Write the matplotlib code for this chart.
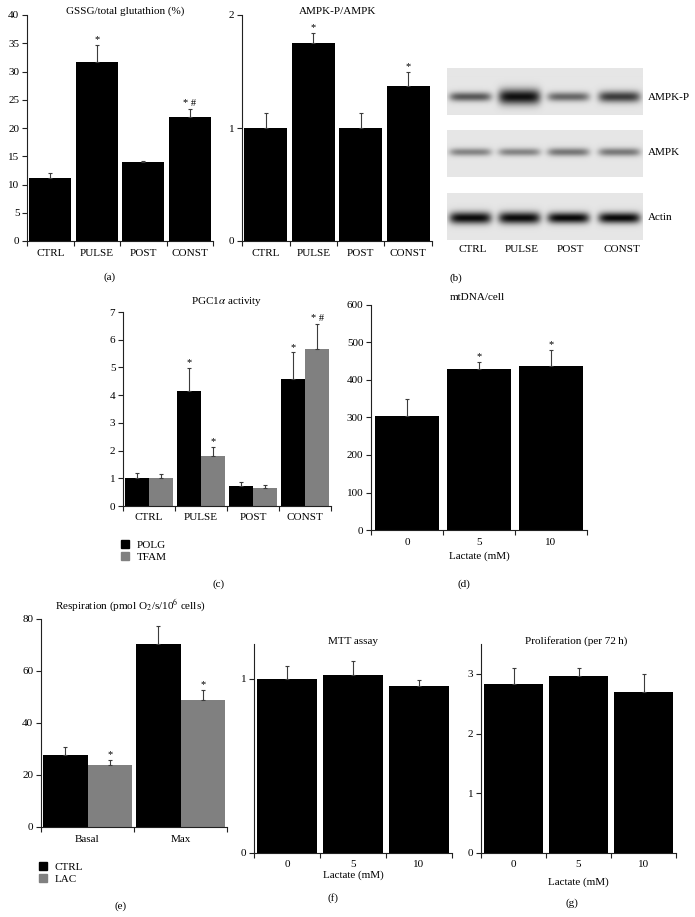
import numpy as np
import matplotlib
matplotlib.use('Agg')
import matplotlib.pyplot as plt
from matplotlib.patches import Patch

plt.rcParams['font.family'] = ['Liberation Serif', 'DejaVu Serif']
plt.rcParams['mathtext.fontset'] = 'stix'
plt.rcParams['font.size'] = 8

# ---------------- data ----------------
groups = ['CTRL', 'PULSE', 'POST', 'CONST']

gssg = [11.1, 31.7, 13.9, 21.9]
gssg_err = [1.0, 3.0, 0.2, 1.5]
gssg_sig = ['', '*', '', '* #']

ampk = [1.0, 1.75, 1.0, 1.37]
ampk_err = [0.13, 0.09, 0.13, 0.13]
ampk_sig = ['', '*', '', '*']

blot_rows = ['AMPK-P', 'AMPK', 'Actin']
band_dark = [[0.62, 0.93, 0.55, 0.74],
             [0.42, 0.42, 0.48, 0.47],
             [0.95, 0.95, 0.96, 0.96]]

polg = [1.0, 4.15, 0.73, 4.6]
polg_err = [0.2, 0.82, 0.15, 0.94]
polg_sig = ['', '*', '', '*']
tfam = [1.0, 1.8, 0.64, 5.67]
tfam_err = [0.17, 0.32, 0.13, 0.91]
tfam_sig = ['', '*', '', '* #']

lactate = ['0', '5', '10']
mtdna = [304, 430, 437]
mtdna_err = [45, 18, 43]
mtdna_sig = ['', '*', '*']

resp_groups = ['Basal', 'Max']
resp_ctrl = [27.8, 70.2]
resp_ctrl_err = [2.8, 7.2]
resp_ctrl_sig = ['', '']
resp_lac = [23.8, 48.9]
resp_lac_err = [2.1, 3.8]
resp_lac_sig = ['*', '*']

mtt = [1.0, 1.02, 0.96]
mtt_err = [0.075, 0.08, 0.036]
mtt_sig = ['', '', '']

prolif = [2.83, 2.97, 2.70]
prolif_err = [0.26, 0.13, 0.30]
prolif_sig = ['', '', '']

BLACK = '#000000'
GRAY = '#808080'

# ---------------- figure ----------------
W, H = 695, 917
fig = plt.figure(figsize=(W / 100, H / 100), dpi=100)


def box(x0, y0, x1, y1):
    return [x0 / W, 1 - y1 / H, (x1 - x0) / W, (y1 - y0) / H]


def ftext(x, y, s, ha='center', **kw):
    fig.text(x / W, 1 - y / H, s, ha=ha, va='center', **kw)


def bars(ax, xs, vals, errs, sigs, color, width):
    ax.bar(xs, vals, width, color=color, edgecolor='none', zorder=2)
    ax.errorbar(xs, vals, yerr=[np.zeros(len(vals)), errs], fmt='none',
                ecolor='#3c3c3c', elinewidth=0.8, capsize=1.3, capthick=0.8, zorder=3)
    for x, v, e, s in zip(xs, vals, errs, sigs):
        if s:
            ax.annotate(s, (x, v + e), xytext=(0, 0.5), textcoords='offset points',
                        ha='center', va='bottom', fontsize=7.5)


def style(ax, labels, ymax, yticks, pad=7):
    n = len(labels)
    ax.set_xlim(0, n)
    ax.set_ylim(0, ymax)
    for s in ['top', 'right']:
        ax.spines[s].set_visible(False)
    for s in ['left', 'bottom']:
        ax.spines[s].set_linewidth(0.8)
        ax.spines[s].set_color('#222222')
    ax.set_xticks(range(n + 1))
    ax.set_xticklabels([])
    ax.set_xticks(np.arange(n) + 0.5, minor=True)
    ax.set_xticklabels(labels, minor=True)
    ax.tick_params(axis='x', which='minor', length=0, pad=pad)
    ax.tick_params(axis='x', which='major', length=3.5, width=0.8, color='#222222')
    ax.set_yticks(yticks)
    ax.tick_params(axis='y', length=3.5, width=0.8, pad=2, color='#222222')
    ax.set_facecolor('none')


# (a) GSSG
ax = fig.add_axes(box(27, 15, 213, 241))
x = np.arange(len(groups)) + 0.5
bars(ax, x, gssg, gssg_err, gssg_sig, BLACK, 0.9)
style(ax, groups, 40, range(0, 41, 5), pad=6)
ftext(125, 11.5, 'GSSG/total glutathion (%)')
ftext(110, 277, '(a)')

# AMPK-P/AMPK
ax = fig.add_axes(box(242, 15, 432, 241))
bars(ax, x, ampk, ampk_err, ampk_sig, BLACK, 0.9)
style(ax, groups, 2, [0, 1, 2], pad=6)
ftext(338, 12, 'AMPK-P/AMPK')

# (b) western blot
row_top = [68, 130, 193]
row_bot = [115, 177, 240]
band_y = [0.62, 0.47, 0.53]
band_h = [[4.5, 7.5, 4.5, 5.5], [4.0, 4.0, 4.2, 4.2], [6.0, 6.0, 5.5, 5.5]]
lane_pos = [0.12, 0.37, 0.62, 0.88]
bx0, bx1 = 447, 643
for r, name in enumerate(blot_rows):
    ax = fig.add_axes(box(bx0, row_top[r], bx1, row_bot[r]))
    h = row_bot[r] - row_top[r]
    w = bx1 - bx0
    yy, xx = np.mgrid[0:h, 0:w] + 0.5
    img = np.full((h, w), 0.9)
    for i in range(len(groups)):
        cx = lane_pos[i] * w
        hx = np.exp(-((xx - cx) / 21.0) ** 6)
        vy = np.exp(-((yy - band_y[r] * h) / band_h[r][i]) ** 2)
        img -= 0.9 * band_dark[r][i] * hx * vy
    ax.imshow(img, cmap='gray', vmin=0, vmax=1, aspect='auto', interpolation='bilinear')
    ax.axis('off')
    ftext(648, row_top[r] + band_y[r] * h, name, ha='left')
for i, g in enumerate(groups):
    ftext(bx0 + lane_pos[i] * (bx1 - bx0) + 2, 249, g)
ftext(456, 278, '(b)')

# (c) PGC1a activity
ax = fig.add_axes(box(123, 312, 331, 506))
xc = np.arange(len(groups))
bars(ax, xc + 0.265, polg, polg_err, polg_sig, BLACK, 0.465)
bars(ax, xc + 0.735, tfam, tfam_err, tfam_sig, GRAY, 0.465)
style(ax, groups, 7, range(0, 8), pad=5)
ftext(227, 302, r'PGC1$\alpha$ activity')
fig.legend([Patch(color=BLACK), Patch(color=GRAY)], ['POLG', 'TFAM'],
           loc='upper left', bbox_to_anchor=(121 / W, 1 - 540 / H),
           frameon=False, handlelength=0.7, handleheight=0.7, handletextpad=0.7,
           labelspacing=0.2, borderpad=0, borderaxespad=0, fontsize=8)
ftext(219, 584, '(c)')

# (d) mtDNA/cell
ax = fig.add_axes(box(371, 305, 587, 530))
xd = np.arange(len(lactate)) + 0.5
bars(ax, xd, mtdna, mtdna_err, mtdna_sig, BLACK, 0.9)
style(ax, lactate, 600, range(0, 601, 100), pad=6)
ax.set_xlabel('Lactate (mM)', labelpad=3)
ftext(450, 297, 'mtDNA/cell', ha='left')
ftext(464, 584, '(d)')

# (e) respiration
ax = fig.add_axes(box(41, 619, 227, 827))
xe = np.arange(len(resp_groups))
bars(ax, xe + 0.26, resp_ctrl, resp_ctrl_err, resp_ctrl_sig, BLACK, 0.48)
bars(ax, xe + 0.74, resp_lac, resp_lac_err, resp_lac_sig, GRAY, 0.48)
style(ax, resp_groups, 80, range(0, 81, 20), pad=6)
ftext(130, 606, r'Respiration (pmol O$_2$/s/10$^6$ cells)')
fig.legend([Patch(color=BLACK), Patch(color=GRAY)], ['CTRL', 'LAC'],
           loc='upper left', bbox_to_anchor=(39 / W, 1 - 862 / H),
           frameon=False, handlelength=0.7, handleheight=0.7, handletextpad=0.7,
           labelspacing=0.2, borderpad=0, borderaxespad=0, fontsize=8)
ftext(121, 906, '(e)')

# (f) MTT
ax = fig.add_axes(box(254, 644, 452, 853))
bars(ax, xd, mtt, mtt_err, mtt_sig, BLACK, 0.9)
style(ax, lactate, 1.2, [0, 1], pad=5)
ax.set_xlabel('Lactate (mM)', labelpad=1)
ftext(353, 641, 'MTT assay')
ftext(333, 898, '(f)')

# (g) proliferation
ax = fig.add_axes(box(481, 644, 676, 853))
bars(ax, xd, prolif, prolif_err, prolif_sig, BLACK, 0.9)
style(ax, lactate, 3.5, [0, 1, 2, 3], pad=5)
ax.set_xlabel('Lactate (mM)', labelpad=6)
ftext(576, 641, 'Proliferation (per 72\u2009h)')
ftext(572, 903, '(g)')

fig.savefig('out.png', dpi=100)
